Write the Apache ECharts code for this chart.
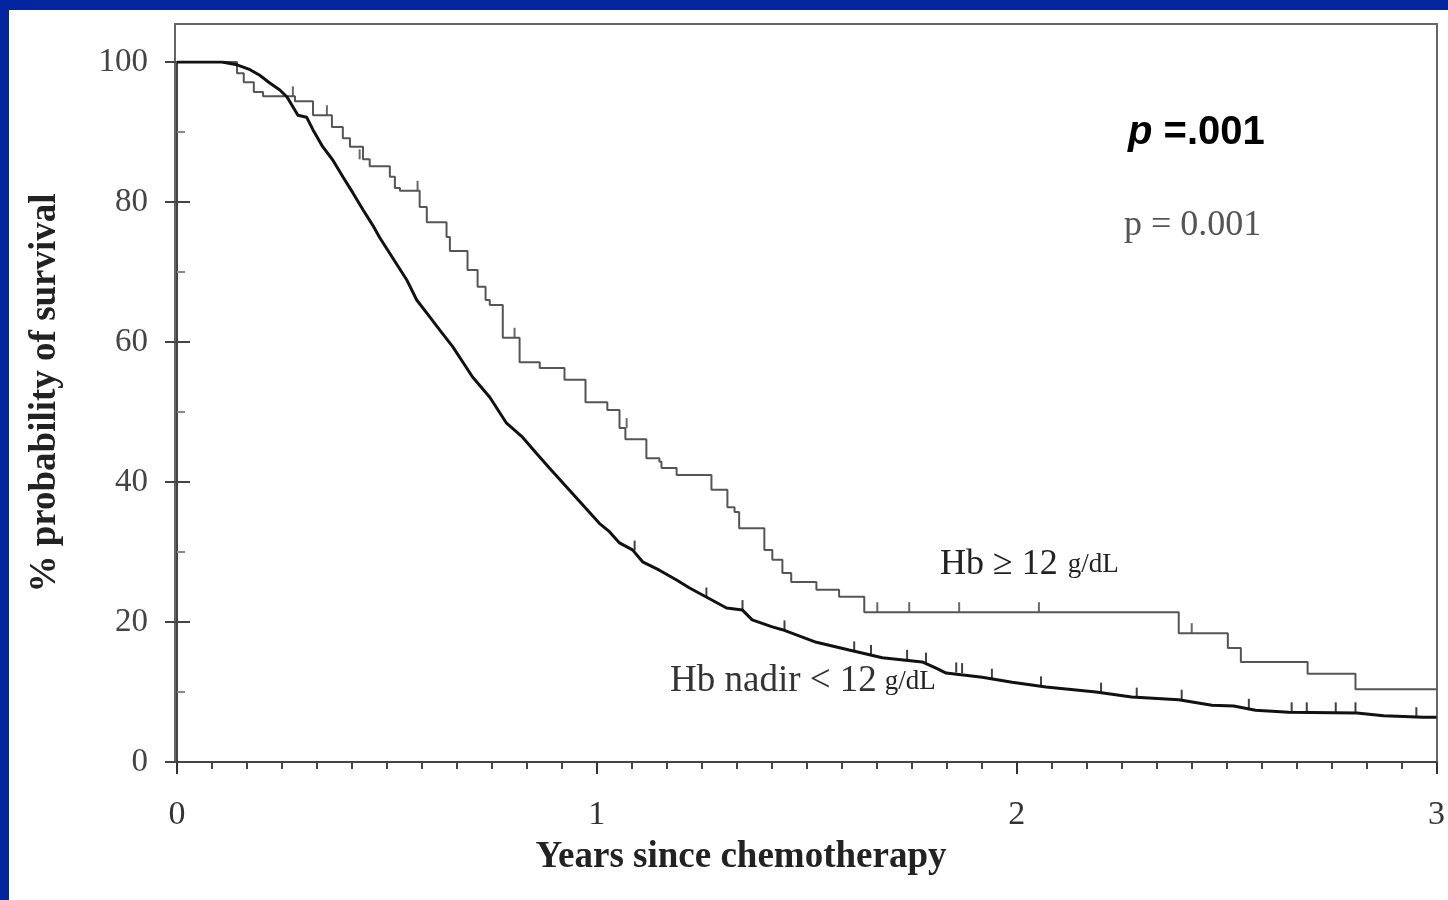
<!DOCTYPE html>
<html>
<head>
<meta charset="utf-8">
<script src="https://cdn.jsdelivr.net/npm/echarts@6/dist/echarts.min.js"></script>
<style>
  html, body { margin: 0; padding: 0; background: #0226a0; }
  #panel { position: absolute; left: 9px; top: 10px; right: 0; bottom: 0; background: #fff; }
  #chart { position: absolute; left: 0; top: 0; width: 1448px; height: 900px; }
</style>
</head>
<body>
<div id="panel"></div>
<div id="chart"></div>
<script>
// Hb >= 12 g/dL (step curve: time in years, survival % after the drop)
const highTime = [0, 0.143, 0.159, 0.183, 0.205, 0.281, 0.324, 0.369, 0.395, 0.412, 0.443, 0.459, 0.507, 0.519, 0.531, 0.578, 0.595,
  0.642, 0.650, 0.692, 0.716, 0.735, 0.745, 0.776, 0.816, 0.864, 0.923, 0.973, 1.025, 1.054, 1.068, 1.118, 1.149, 1.154,
  1.190, 1.273, 1.311, 1.328, 1.339, 1.399, 1.418, 1.442, 1.463, 1.523, 1.577, 1.637, 2.386, 2.503, 2.534, 2.693, 2.807, 3.0]
const highSurv = [100, 98.4, 97.1, 95.7, 95.1, 94.4, 92.4, 90.7, 89.1, 87.9, 86.1, 85.1, 83.6, 82.0, 81.6, 79.3, 77.1,
  75.0, 73.0, 70.3, 67.9, 66.0, 65.3, 60.6, 57.1, 56.3, 54.6, 51.4, 50.3, 47.7, 46.1, 43.4, 42.9, 42.0,
  41.0, 38.9, 36.4, 35.7, 33.4, 30.3, 28.9, 27.0, 25.7, 24.6, 23.6, 21.4, 18.4, 16.3, 14.3, 12.6, 10.4, 10.4]
const highCensTime = [0.276, 0.357, 0.435, 0.573, 0.804, 1.071, 1.668, 1.744, 1.863, 2.053, 2.417]
const highCensSurv = [95.1, 92.4, 86.1, 81.6, 60.6, 47.7, 21.4, 21.4, 21.4, 21.4, 18.4]

// Hb nadir < 12 g/dL
const lowTime = [0, 0.107, 0.143, 0.174, 0.197, 0.221, 0.245, 0.262, 0.276, 0.288, 0.309, 0.324, 0.347, 0.371, 0.395, 0.419,
  0.443, 0.466, 0.483, 0.547, 0.571, 0.602, 0.626, 0.657, 0.704, 0.745, 0.785, 0.823, 0.856, 0.887,
  1.006, 1.030, 1.054, 1.085, 1.109, 1.149, 1.190, 1.220, 1.244, 1.275, 1.309, 1.347, 1.370, 1.418, 1.442,
  1.523, 1.601, 1.680, 1.775, 1.808, 1.832, 1.918, 1.989, 2.070, 2.189, 2.274, 2.386, 2.465, 2.517, 2.569,
  2.648, 2.810, 2.874, 2.969, 3.0]
const lowSurv = [100, 100, 99.6, 98.9, 98.1, 97.0, 96.0, 95.0, 93.6, 92.4, 92.1, 90.3, 87.9, 86.0, 83.6, 81.3,
  78.9, 76.7, 74.9, 68.9, 66.0, 63.6, 61.7, 59.3, 55.0, 52.1, 48.4, 46.4, 44.1, 42.0,
  34.1, 32.9, 31.3, 30.3, 28.6, 27.4, 26.0, 24.9, 24.1, 23.1, 22.0, 21.7, 20.3, 19.3, 18.9,
  17.1, 16.0, 14.9, 14.3, 13.4, 12.7, 12.1, 11.4, 10.7, 10.0, 9.3, 8.9, 8.1, 8.0, 7.4,
  7.1, 7.0, 6.6, 6.4, 6.4]
const lowCensTime = [1.090, 1.261, 1.347, 1.447, 1.613, 1.653, 1.739, 1.784, 1.856, 1.870, 1.941, 2.058, 2.201, 2.286, 2.393,
  2.553, 2.655, 2.691, 2.760, 2.807, 2.952]
const lowCensSurv = [30.2, 23.5, 21.7, 18.8, 15.8, 15.3, 14.6, 14.2, 12.8, 12.7, 11.9, 10.8, 9.9, 9.2, 8.9,
  7.6, 7.1, 7.1, 7.1, 7.1, 6.4]

const xTicks = [0, 1, 2, 3]
const yTicks = [0, 20, 40, 60, 80, 100]

const zip = (a, b) => a.map((v, i) => [v, b[i]])
const serif = '"Liberation Serif", "DejaVu Serif", serif'
const sans = '"Liberation Sans", Arial, sans-serif'

const chart = echarts.init(document.getElementById('chart'))
chart.setOption({
  animation: false,
  backgroundColor: 'transparent',
  grid: [
    { left: 177, right: 10, top: 62, bottom: 138 },
    // frame around the plot
    { left: 175, right: 11, top: 24, bottom: 138, show: true, borderColor: '#666', borderWidth: 2, backgroundColor: 'transparent' }
  ],
  xAxis: [
    {
      type: 'value', min: xTicks[0], max: xTicks[xTicks.length - 1], interval: 1,
      axisLine: { lineStyle: { color: '#444', width: 2 } },
      axisTick: { length: 12, lineStyle: { color: '#333', width: 2 } },
      minorTick: { show: true, splitNumber: 12, length: 7, lineStyle: { color: '#444', width: 2 } },
      axisLabel: { margin: 36, fontFamily: serif, fontSize: 34, color: '#333' },
      splitLine: { show: false }
    },
    { gridIndex: 1, type: 'value', show: false, min: 0, max: 1 }
  ],
  yAxis: [
    {
      type: 'value', min: yTicks[0], max: yTicks[yTicks.length - 1], interval: 20,
      axisLine: { lineStyle: { color: '#444', width: 2 } },
      axisTick: { length: 12, lineStyle: { color: '#444', width: 2 } },
      minorTick: { show: true, splitNumber: 2, length: -8, lineStyle: { color: '#888', width: 2 } },
      axisLabel: { margin: 29, fontFamily: serif, fontSize: 33, color: '#444' },
      splitLine: { show: false }
    },
    {
      // inner half of the crossing major ticks
      type: 'value', min: yTicks[0], max: yTicks[yTicks.length - 1], interval: 20, position: 'left',
      axisLine: { show: false },
      axisTick: { inside: true, length: 13, lineStyle: { color: '#444', width: 2 } },
      axisLabel: { show: false },
      splitLine: { show: false }
    },
    { gridIndex: 1, type: 'value', show: false, min: 0, max: 1 }
  ],
  series: [
    {
      name: 'Hb ≥ 12 g/dL', type: 'line', step: 'end', data: zip(highTime, highSurv),
      showSymbol: false, lineStyle: { color: '#555', width: 2 }
    },
    {
      name: 'Hb nadir < 12 g/dL', type: 'line', data: zip(lowTime, lowSurv),
      showSymbol: false, lineStyle: { color: '#111', width: 3 }
    },
    {
      type: 'scatter', data: zip(highCensTime, highCensSurv), symbol: 'rect',
      symbolSize: [2, 10], symbolOffset: [0, -5], itemStyle: { color: '#444' }
    },
    {
      type: 'scatter', data: zip(lowCensTime, lowCensSurv), symbol: 'rect',
      symbolSize: [2, 10], symbolOffset: [0, -5], itemStyle: { color: '#111' }
    }
  ],
  graphic: [
    {
      type: 'text', left: 1128, top: 113,
      style: {
        text: '{i|p}{b| =.001}',
        rich: {
          i: { fontFamily: sans, fontSize: 40, fontWeight: 'bold', fontStyle: 'italic', fill: '#000' },
          b: { fontFamily: sans, fontSize: 40, fontWeight: 'bold', fill: '#000' }
        }
      }
    },
    {
      type: 'text', left: 1124, top: 208,
      style: { text: 'p = 0.001', fontFamily: serif, fontSize: 36, fill: '#555' }
    },
    {
      type: 'text', left: 940, top: 547,
      style: {
        text: '{a|Hb ≥ 12}{b|g/dL}',
        rich: {
          a: { fontFamily: serif, fontSize: 36, fill: '#222', padding: [0, 10, 0, 0] },
          b: { fontFamily: serif, fontSize: 27, fill: '#222' }
        }
      }
    },
    {
      type: 'text', left: 670, top: 663,
      style: {
        text: '{a|Hb nadir < 12}{b|g/dL}',
        rich: {
          a: { fontFamily: serif, fontSize: 37, fill: '#333', padding: [0, 8, 0, 0] },
          b: { fontFamily: serif, fontSize: 27, fill: '#222' }
        }
      }
    },
    {
      type: 'text', x: 741, y: 857,
      style: { text: 'Years since chemotherapy', align: 'center', verticalAlign: 'middle', fontFamily: serif, fontSize: 37, fontWeight: 'bold', fill: '#222' }
    },
    {
      type: 'text', x: 45, y: 393, rotation: Math.PI / 2,
      style: { text: '% probability of survival', align: 'center', verticalAlign: 'middle', fontFamily: serif, fontSize: 37, fontWeight: 'bold', fill: '#222' }
    }
  ]
})
</script>
</body>
</html>
